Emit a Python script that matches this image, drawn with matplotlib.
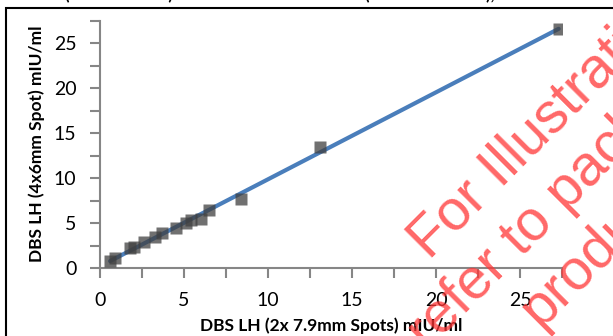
import numpy as np
import matplotlib.pyplot as plt
from matplotlib.patches import Rectangle
from matplotlib.ticker import MultipleLocator

plt.rcParams['font.family'] = ['Lato', 'DejaVu Sans']

# DBS LH readings, mIU/ml
x_2x79 = [0.6, 0.9, 1.8, 2.0, 2.6, 3.3, 3.7, 4.5, 5.1, 5.4, 6.0, 6.5, 8.4, 13.1, 27.3]
y_4x6 = [0.8, 1.1, 2.2, 2.3, 2.9, 3.4, 3.9, 4.5, 5.0, 5.3, 5.4, 6.5, 7.7, 13.4, 26.6]

x_label = 'DBS LH (2x 7.9mm Spots) mIU/ml'
y_label = 'DBS LH (4x6mm Spot) mIU/ml'
watermark = ['For Illustration Only', 'refer to packaging', 'product']

W, H = 613, 336
fig = plt.figure(figsize=(W / 100, H / 100), dpi=100)
ax = fig.add_axes([100 / W, 1 - 268 / H, 462 / W, 247.5 / H])

# linear fit through the points
slope, icpt = np.polyfit(x_2x79, y_4x6, 1)
xs = np.array([min(x_2x79), max(x_2x79)])
ax.plot(xs, slope * xs + icpt, color='#4A7EBB', lw=3, solid_capstyle='round', zorder=2)
ax.plot(x_2x79, y_4x6, ls='none', marker='s', ms=8, mfc='#404040', mec='none',
        alpha=0.75, zorder=3)

ax.set_xlim(0, 27.5)
ax.set_ylim(0, 27.5)
ax.xaxis.set_major_locator(MultipleLocator(5))
ax.xaxis.set_minor_locator(MultipleLocator(2.5))
ax.yaxis.set_major_locator(MultipleLocator(5))
ax.yaxis.set_minor_locator(MultipleLocator(2.5))
for s in ['top', 'right']:
    ax.spines[s].set_visible(False)
for s in ['left', 'bottom']:
    ax.spines[s].set_color('#868686')
    ax.spines[s].set_linewidth(1.5)
ax.tick_params(which='both', direction='out', length=7, width=1.5, color='#868686')
ax.tick_params(which='major', labelsize=14, pad=10)
ax.set_xlabel(x_label, fontsize=12.5, fontweight='bold', labelpad=6)
ax.set_ylabel(y_label, fontsize=12.5, fontweight='bold', labelpad=6)

# outer frame of the original figure (cropped)
fig.add_artist(Rectangle((6 / W, -0.2), 1.2, 1.2 - 8 / H, transform=fig.transFigure,
                         fill=False, ec='black', lw=1.5))
# cropped title line above the frame
fig.text(65 / W, 1.0, '(4x6mm Discs)', fontsize=12, fontweight='bold', va='baseline')
fig.text(365 / W, 1.0, '(2x 7.9mm Discs),', fontsize=12, fontweight='bold', va='baseline')

# watermark, rotated 45 degrees
r2 = np.sqrt(2)
for txt, base, start in zip(watermark, [488, 551, 614], [120, 54, 150]):
    px = (base + start) / r2
    py = (base - start) / r2
    fig.text(px / W, 1 - py / H, txt, fontsize=41, family=['Liberation Sans'],
             color='#ff3535', alpha=0.75, rotation=45, rotation_mode='anchor',
             ha='left', va='baseline', zorder=10)

fig.savefig('out.png', dpi=100)
